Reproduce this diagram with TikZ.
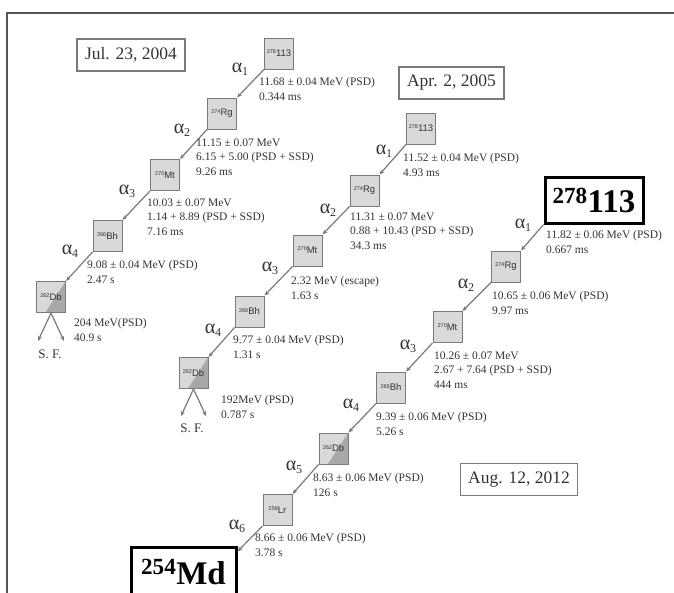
\documentclass[tikz,border=0pt]{standalone}
\usepackage{fontspec}
\setmainfont{Liberation Serif}
\setsansfont{Liberation Sans}
\usetikzlibrary{arrows.meta}
\definecolor{boxfill}{HTML}{D9D9D9}
\definecolor{boxdark}{HTML}{A8A8A8}
\definecolor{boxline}{HTML}{7A7A7A}
\definecolor{arrcol}{HTML}{7A7A7A}
\definecolor{txt}{HTML}{333333}
\definecolor{framecol}{HTML}{555555}
\newcommand{\nucl}[2]{\raisebox{2.8pt}{\fontsize{5.5}{6}\selectfont #1}{\fontsize{9.5}{10}\selectfont #2}}
\newcommand{\alp}[1]{α\raisebox{-3pt}{\fontsize{12}{12}\selectfont #1}}
\begin{document}
\begin{tikzpicture}[x=1pt,y=-1pt,
 nuc/.style={draw=boxline, fill=boxfill, line width=1pt, minimum width=29pt, minimum height=31pt, inner sep=0pt, font=\sffamily, text=black!80},
 nucsplit/.style={nuc, path picture={\fill[boxdark] ([xshift=9pt]path picture bounding box.south west) -- (path picture bounding box.south east) -- (path picture bounding box.north east) -- cycle;}},
 big/.style={draw=black, line width=3pt, inner sep=0pt, font=\bfseries\fontsize{33}{33}\selectfont},
 info/.style={anchor=north west, align=left, inner sep=0pt, font=\fontsize{11.5}{14.5}\selectfont, text=txt},
 alab/.style={inner sep=0pt, font=\fontsize{20}{20}\selectfont, text=txt},
 datebox/.style={draw=boxline, line width=1.2pt, inner xsep=8pt, minimum height=32pt, font=\fontsize{17.5}{17.5}\selectfont, text=txt},
 sflab/.style={inner sep=0pt, font=\fontsize{13}{13}\selectfont, text=txt},
 arr/.style={draw=arrcol, line width=1.2pt, -{Stealth[length=5pt,width=4pt]}},
]
\useasboundingbox (0,0) rectangle (674,592);
\draw[framecol, line width=2pt] (7,600) -- (7,13) -- (680,13);

% dates
\node[datebox] (dt1) at (131,55) {Jul. 23, 2004};
\node[datebox] (dt2) at (451.5,83) {Apr. 2, 2005};
\node[datebox] (dt3) at (519,479.5) {Aug. 12, 2012};

% chain 1
\node[nuc] (c1a) at (279,53.5) {\nucl{278}{113}};
\node[nuc] (c1b) at (222,113.5) {\nucl{274}{Rg}};
\node[nuc] (c1c) at (165,175) {\nucl{270}{Mt}};
\node[nuc] (c1d) at (107.5,236) {\nucl{266}{Bh}};
\node[nucsplit] (c1e) at (51,297) {\nucl{262}{Db}};
\draw[arr] (c1a.south west) -- (c1b.north east);
\draw[arr] (c1b.south west) -- (c1c.north east);
\draw[arr] (c1c.south west) -- (c1d.north east);
\draw[arr] (c1d.south west) -- (c1e.north east);
\coordinate (sf1l) at (38,341);
\coordinate (sf1r) at (64,341);
\draw[arr] (c1e.south) -- (sf1l);
\draw[arr] (c1e.south) -- (sf1r);
\node[sflab] (sf1) at (50,354) {S. F.};
\node[alab] (a11) at (240,69) {\alp{1}};
\node[alab] (a12) at (182,130) {\alp{2}};
\node[alab] (a13) at (127,191) {\alp{3}};
\node[alab] (a14) at (70,251) {\alp{4}};
\node[info] (d1a) at (259,77.5) {11.68 ± 0.04 MeV (PSD)\\0.344 ms};
\node[info] (d1b) at (196,138.5) {11.15 ± 0.07 MeV\\6.15 + 5.00 (PSD + SSD)\\9.26 ms};
\node[info] (d1c) at (147,198.5) {10.03 ± 0.07 MeV\\1.14 + 8.89 (PSD + SSD)\\7.16 ms};
\node[info] (d1d) at (87,260.5) {9.08 ± 0.04 MeV (PSD)\\2.47 s};
\node[info] (d1e) at (74,318.5) {204 MeV(PSD)\\40.9 s};

% chain 2
\node[nuc] (c2a) at (421,128.5) {\nucl{278}{113}};
\node[nuc] (c2b) at (364.5,190.5) {\nucl{274}{Rg}};
\node[nuc] (c2c) at (307.5,250.5) {\nucl{270}{Mt}};
\node[nuc] (c2d) at (249.5,311.5) {\nucl{266}{Bh}};
\node[nucsplit] (c2e) at (193.5,373) {\nucl{262}{Db}};
\draw[arr] (c2a.south west) -- (c2b.north east);
\draw[arr] (c2b.south west) -- (c2c.north east);
\draw[arr] (c2c.south west) -- (c2d.north east);
\draw[arr] (c2d.south west) -- (c2e.north east);
\coordinate (sf2l) at (181,416);
\coordinate (sf2r) at (206,416);
\draw[arr] (c2e.south) -- (sf2l);
\draw[arr] (c2e.south) -- (sf2r);
\node[sflab] (sf2) at (192,428) {S. F.};
\node[alab] (a21) at (384,151) {\alp{1}};
\node[alab] (a22) at (328,210) {\alp{2}};
\node[alab] (a23) at (270,268) {\alp{3}};
\node[alab] (a24) at (213,330) {\alp{4}};
\node[info] (d2a) at (403,153.5) {11.52 ± 0.04 MeV (PSD)\\4.93 ms};
\node[info] (d2b) at (350,212.5) {11.31 ± 0.07 MeV\\0.88 + 10.43 (PSD + SSD)\\34.3 ms};
\node[info] (d2c) at (291,276.5) {2.32 MeV (escape)\\1.63 s};
\node[info] (d2d) at (233,335.5) {9.77 ± 0.04 MeV (PSD)\\1.31 s};
\node[info] (d2e) at (221,395.5) {192MeV (PSD)\\0.787 s};

% chain 3
\node[big, minimum width=98pt, minimum height=46pt] (c3a) at (594,200) {\textsuperscript{278}113};
\node[nuc] (c3b) at (506,266.5) {\nucl{274}{Rg}};
\node[nuc] (c3c) at (447.5,327) {\nucl{270}{Mt}};
\node[nuc] (c3d) at (391,387.5) {\nucl{266}{Bh}};
\node[nucsplit] (c3e) at (333.5,448.5) {\nucl{262}{Db}};
\node[nuc] (c3f) at (277.5,510) {\nucl{258}{Lr}};
\node[big, minimum width=105pt, minimum height=50pt] (c3g) at (183.5,572) {\textsuperscript{254}Md};
\draw[arr] (c3a.south west) -- (c3b.north east);
\draw[arr] (c3b.south west) -- (c3c.north east);
\draw[arr] (c3c.south west) -- (c3d.north east);
\draw[arr] (c3d.south west) -- (c3e.north east);
\draw[arr] (c3e.south west) -- (c3f.north east);
\draw[arr] (c3f.south west) -- ([yshift=-6pt]c3g.north east);
\node[alab] (a31) at (523,225) {\alp{1}};
\node[alab] (a32) at (466,285) {\alp{2}};
\node[alab] (a33) at (408,346) {\alp{3}};
\node[alab] (a34) at (351,405) {\alp{4}};
\node[alab] (a35) at (294,467) {\alp{5}};
\node[alab] (a36) at (237,526) {\alp{6}};
\node[info] (d3a) at (546,230.5) {11.82 ± 0.06 MeV (PSD)\\0.667 ms};
\node[info] (d3b) at (492,291.5) {10.65 ± 0.06 MeV (PSD)\\9.97 ms};
\node[info] (d3c) at (434,351.5) {10.26 ± 0.07 MeV\\2.67 + 7.64 (PSD + SSD)\\444 ms};
\node[info] (d3d) at (376,412.5) {9.39 ± 0.06 MeV (PSD)\\5.26 s};
\node[info] (d3e) at (313,473.5) {8.63 ± 0.06 MeV (PSD)\\126 s};
\node[info] (d3f) at (255,533.5) {8.66 ± 0.06 MeV (PSD)\\3.78 s};
\end{tikzpicture}
\end{document}
